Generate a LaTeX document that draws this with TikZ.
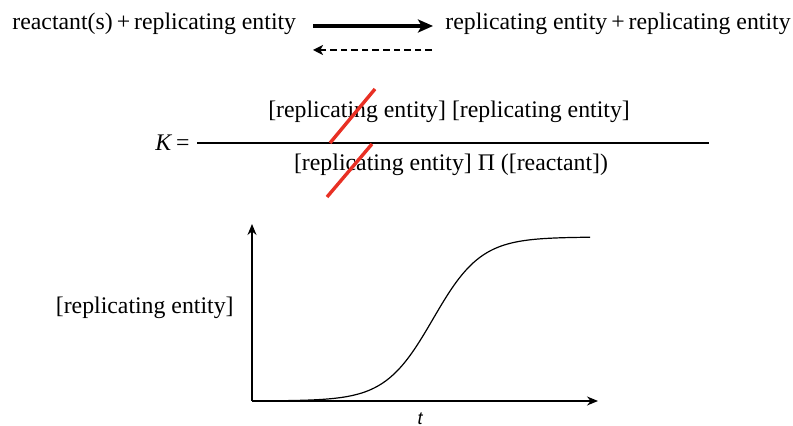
\documentclass[tikz,border=0pt]{standalone}
\usepackage{fontspec}
\setmainfont{Liberation Serif}
\setsansfont{Liberation Sans}
\usetikzlibrary{arrows.meta, positioning}

\definecolor{strikered}{RGB}{232,48,36}

\begin{document}
\begin{tikzpicture}[
    x=0.5pt, y=-0.5pt,
    >=Stealth,
    % --- text styles ---
    eqtext/.style={
        inner sep=0pt, font=\fontsize{11.9}{14}\selectfont},
    axislabel/.style={
        inner sep=0pt, font=\fontsize{9}{11}\selectfont\sffamily\itshape},
    % --- line styles ---
    fwdarr/.style={-{Stealth[length=7.5pt, width=6.5pt, inset=1.8pt]}, line width=1.6pt},
    backarr/.style={-{Stealth[length=5pt, width=5pt, inset=1.3pt]}, line width=0.7pt,
        dash pattern=on 3.3pt off 2pt},
    fracline/.style={line width=0.75pt},
    strike/.style={strikered, line width=1.7pt},
    axis/.style={-{Stealth[length=5.5pt, width=4.5pt]}, line width=0.7pt},
    growth/.style={line width=0.6pt},
]
\useasboundingbox (0,0) rectangle (793,426);

% ===== REACTION =====
\node[eqtext, anchor=west] (lhs) at (12,24)
    {reactant(s)\,+\,replicating entity};
\node[eqtext, anchor=west] (rhs) at (445,24)
    {replicating entity\,+\,replicating entity};

\coordinate (fwdA) at (313,26);
\coordinate (fwdB) at (433,26);
\coordinate (bckA) at (432,50);
\coordinate (bckB) at (313,50);

\draw[fwdarr] (fwdA) -- (fwdB);
\draw[backarr] (bckA) -- (bckB);

% ===== EQUILIBRIUM CONSTANT =====
\node[eqtext, anchor=east] (keq) at (190,143) {\textit{K}\,=};
\coordinate (fracL) at (197,143);
\coordinate (fracR) at (709,143);
\draw[fracline] (fracL) -- (fracR);

\node[eqtext] (num) at (449,112)
    {[replicating entity] [replicating entity]};
\node[eqtext] (den) at (451,165)
    {[replicating entity] Π ([reactant])};

% cancelled terms
\coordinate (topS) at (330,143);
\coordinate (topE) at (375,89);
\coordinate (botS) at (327,197);
\coordinate (botE) at (372,144);
\draw[strike] (topS) -- (topE);
\draw[strike] (botS) -- (botE);

% ===== GROWTH CURVE =====
\coordinate (origin) at (252,401);
\coordinate (ytop) at (252,224);
\coordinate (xend) at (598,401);

\draw[axis] (origin) -- (ytop);
\draw[axis] (origin) -- (xend);

% logistic growth
\draw[growth] plot[domain=252:590, samples=120]
    (\x, {401-164/(1+exp(-(\x-433)/24))});

\node[eqtext, anchor=east] (ylab) at (234,308) {[replicating entity]};
\node[axislabel] (tlab) at (420,419) {t};

\end{tikzpicture}
\end{document}
